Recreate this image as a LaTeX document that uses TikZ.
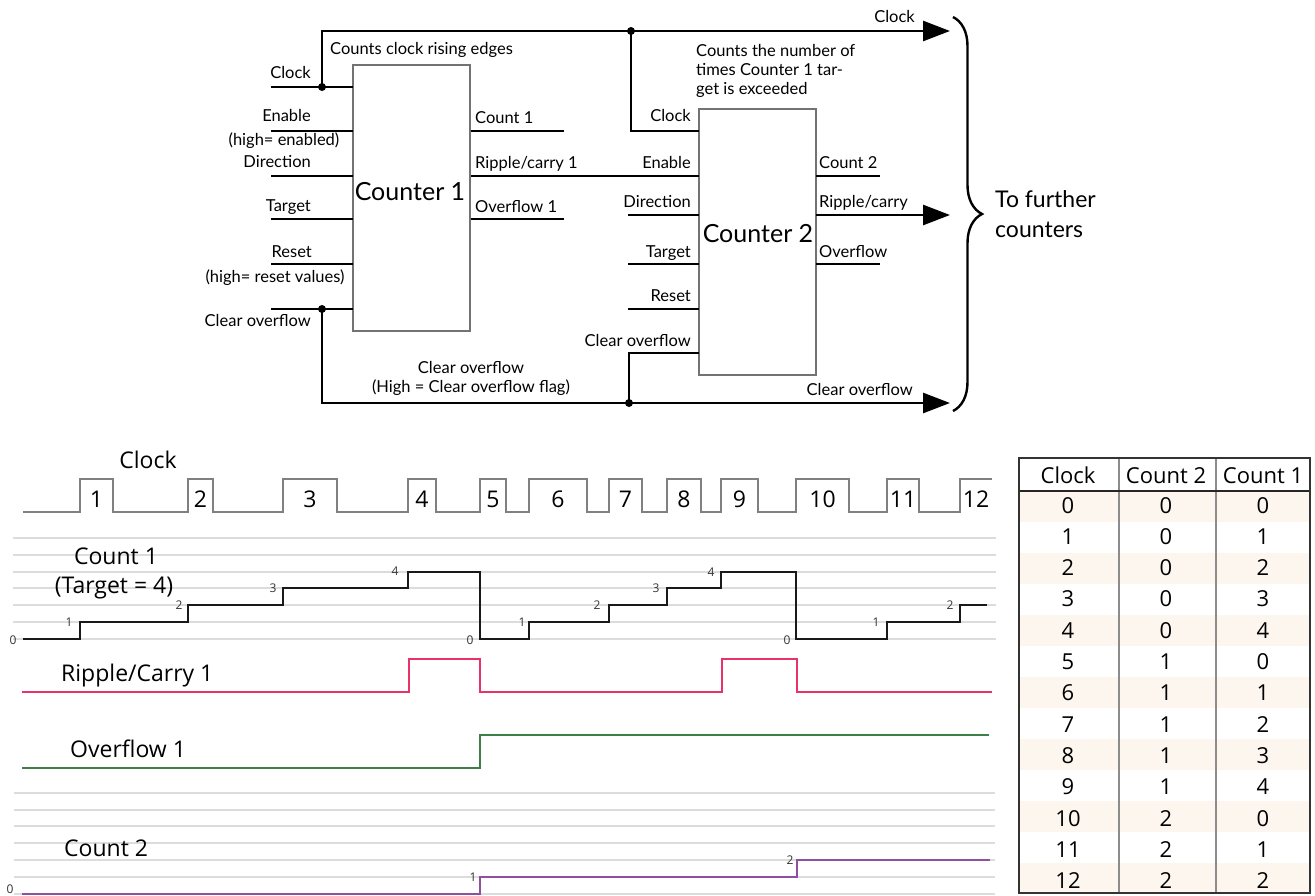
\documentclass[tikz,border=0pt]{standalone}
\usepackage{fontspec}
\setmainfont{Lato}
\newfontfamily\tfont{Open Sans}
\usetikzlibrary{arrows.meta,decorations.pathreplacing}
\definecolor{gridc}{HTML}{DCDCDC}
\definecolor{ripc}{HTML}{E8336A}
\definecolor{ovc}{HTML}{3D8046}
\definecolor{ctwo}{HTML}{9050A2}
\definecolor{rowc}{HTML}{FCF6EE}
\definecolor{clkc}{HTML}{808080}
\begin{document}
\begin{tikzpicture}[x=1pt,y=-1pt,
  lbl/.style={font=\fontsize{16.5}{19}\selectfont, inner sep=0pt},
  big/.style={font=\fontsize{25}{28}\selectfont, inner sep=0pt},
  wire/.style={line width=2.7pt},
  arr/.style={line width=2.7pt,-{Triangle[length=27pt,width=20pt]}},
  cbox/.style={draw=black!55,line width=1.3pt,fill=white,inner sep=0pt},
  jdot/.style={circle,fill=black,inner sep=0pt,minimum size=8pt},
  tl/.style={font=\tfont\fontsize{23}{26}\selectfont, inner sep=0pt},
  sl/.style={font=\tfont\fontsize{12}{14}\selectfont, inner sep=0pt, text=black!80},
  gline/.style={draw=gridc, line width=1.4pt},
  tab/.style={font=\tfont\fontsize{22}{24}\selectfont, inner sep=0pt}]
\useasboundingbox (0,0) rectangle (1315,895);

% ---------------- block diagram ----------------
\node[cbox, minimum width=117pt, minimum height=266pt] (c1) at (411.5,198) {};
\node[cbox, minimum width=117pt, minimum height=266pt] (c2) at (757.5,242) {};
\node[big, anchor=base] (c1t) at (410,200) {Counter 1};
\node[big, anchor=base] (c2t) at (758,242) {Counter 2};

% Counter 1 pins
\coordinate (i1clk) at (271,87);  \coordinate (p1clk) at (353,87);
\coordinate (i1en)  at (271,131); \coordinate (p1en)  at (353,131);
\coordinate (i1dir) at (271,176); \coordinate (p1dir) at (353,176);
\coordinate (i1tg)  at (271,219); \coordinate (p1tg)  at (353,219);
\coordinate (i1rs)  at (271,264); \coordinate (p1rs)  at (353,264);
\coordinate (i1co)  at (271,309); \coordinate (p1co)  at (353,309);
\coordinate (o1cnt) at (471,131); \coordinate (e1cnt) at (564,131);
\coordinate (o1rip) at (471,176);
\coordinate (o1ov)  at (471,219); \coordinate (e1ov)  at (564,219);
% Counter 2 pins
\coordinate (p2clk) at (699,131);
\coordinate (p2en)  at (699,176);
\coordinate (i2dir) at (628,215); \coordinate (p2dir) at (699,215);
\coordinate (i2tg)  at (628,264); \coordinate (p2tg)  at (699,264);
\coordinate (i2rs)  at (628,309); \coordinate (p2rs)  at (699,309);
\coordinate (p2co)  at (699,353);
\coordinate (o2cnt) at (816,176); \coordinate (e2cnt) at (880,176);
\coordinate (o2rip) at (816,215); \coordinate (e2rip) at (950,215);
\coordinate (o2ov)  at (816,264); \coordinate (e2ov)  at (880,264);
% junctions and ends
\coordinate (j1) at (322,87);
\coordinate (j2) at (631,31);
\coordinate (j3) at (322,309);
\coordinate (j4) at (629,403);
\coordinate (eclk) at (950,31);
\coordinate (eco) at (950,403);

\draw[wire] (i1clk) -- (p1clk);
\draw[wire] (i1en) -- (p1en);
\draw[wire] (i1dir) -- (p1dir);
\draw[wire] (i1tg) -- (p1tg);
\draw[wire] (i1rs) -- (p1rs);
\draw[wire] (i1co) -- (p1co);
\draw[wire] (o1cnt) -- (e1cnt);
\draw[wire] (o1rip) -- (p2en);
\draw[wire] (o1ov) -- (e1ov);
\draw[wire] (i2dir) -- (p2dir);
\draw[wire] (i2tg) -- (p2tg);
\draw[wire] (i2rs) -- (p2rs);
\draw[wire] (o2cnt) -- (e2cnt);
\draw[wire] (o2ov) -- (e2ov);
\draw[arr] (o2rip) -- (e2rip);
\draw[arr] (j1) |- (eclk);
\draw[wire] (j2) |- (p2clk);
\draw[arr] (j3) |- (eco);
\draw[wire] (j4) |- (p2co);
\node[jdot] (d1) at (j1) {};
\node[jdot] (d2) at (j2) {};
\node[jdot] (d3) at (j3) {};
\node[jdot] (d4) at (j4) {};

% labels counter 1
\node[lbl, anchor=base east] (l1) at (311,78) {Clock};
\node[lbl, anchor=base east] (l2) at (311,121) {Enable};
\node[lbl, anchor=base] (l3) at (284,145) {(high= enabled)};
\node[lbl, anchor=base east] (l4) at (311,167) {Direction};
\node[lbl, anchor=base east] (l5) at (311,211) {Target};
\node[lbl, anchor=base east] (l6) at (312,257) {Reset};
\node[lbl, anchor=base] (l7) at (275,282) {(high= reset values)};
\node[lbl, anchor=base east] (l8) at (311,326) {Clear overflow};
\node[lbl, anchor=base west] (l9) at (330,54) {Counts clock rising edges};
\node[lbl, anchor=base west] (l10) at (475,123) {Count 1};
\node[lbl, anchor=base west] (l11) at (475,168) {Ripple/carry 1};
\node[lbl, anchor=base west] (l12) at (475,212) {Overflow 1};
% labels counter 2
\node[lbl, anchor=base east] (m1) at (691,121) {Clock};
\node[lbl, anchor=base east] (m2) at (691,168) {Enable};
\node[lbl, anchor=base east] (m3) at (691,207) {Direction};
\node[lbl, anchor=base east] (m4) at (691,257) {Target};
\node[lbl, anchor=base east] (m5) at (691,301) {Reset};
\node[lbl, anchor=base east] (m6) at (691,346) {Clear overflow};
\node[lbl, anchor=base west] (m7) at (819,168) {Count 2};
\node[lbl, anchor=base west] (m8) at (819,207) {Ripple/carry};
\node[lbl, anchor=base west] (m9) at (819,257) {Overflow};
\node[lbl, anchor=base west] (m10) at (696,56) {Counts the number of};
\node[lbl, anchor=base west] (m11) at (696,75) {times Counter 1 tar-};
\node[lbl, anchor=base west] (m12) at (696,94) {get is exceeded};
\node[lbl, anchor=base east] (m13) at (915,22) {Clock};
\node[lbl, anchor=base east] (m14) at (913,395) {Clear overflow};
\node[lbl, anchor=base] (m15) at (471,373) {Clear overflow};
\node[lbl, anchor=base] (m16) at (471,392) {(High = Clear overflow flag)};

% brace
\coordinate (bt) at (953,17);
\coordinate (bb) at (953,411);
\draw[line width=2.4pt, decorate, decoration={brace, amplitude=29pt}] (bt) -- (bb);
\node[font=\fontsize{23}{26}\selectfont, inner sep=0pt, anchor=base west] (tf1) at (995,207) {To further};
\node[font=\fontsize{23}{26}\selectfont, inner sep=0pt, anchor=base west] (tf2) at (995,237) {counters};

% ---------------- timing diagram ----------------
\foreach \y in {538,555,572,588,605,622,639} \draw[gline] (13,\y) -- (996,\y);
\foreach \y in {793,810,826,843,860,877,894} \draw[gline] (14,\y) -- (995,\y);

\draw[clkc, line width=1.3pt] (23,512)
  foreach \r/\f in {80/113,188/213,283/337,408/436,480/506,529/587,609/642,667/701,721/758,796/849,887/919}
  { -- (\r,512) -- (\r,479) -- (\f,479) -- (\f,512) } -- (960,512) -- (960,479) -- (992,479);
\foreach \r/\f [count=\n] in {80/113,188/213,283/337,408/436,480/506,529/587,609/642,667/701,721/758,796/849,887/919,960/992}
  \node[tl, anchor=base] (ck\n) at ({(\r+\f)/2},507) {\n};
\node[tl, anchor=base] (tclk) at (148,468) {Clock};

\draw[line width=2.7pt, black!90] (23,639) -- (80,639) -- (80,622) -- (188,622) -- (188,605) -- (283,605) -- (283,588) -- (408,588) -- (408,572) -- (480,572) -- (480,639) -- (529,639) -- (529,622) -- (609,622) -- (609,605) -- (667,605) -- (667,588) -- (721,588) -- (721,572) -- (796,572) -- (796,639) -- (887,639) -- (887,622) -- (960,622) -- (960,605) -- (987,605);
\node[tl, anchor=base] (tc1) at (116,564) {Count 1};
\node[tl, anchor=base] (tc1b) at (114,593) {(Target = 4)};
\foreach \x/\y/\t [count=\n] in {13/640/0,69/622/1,179/605/2,273/588/3,395/571/4,470/640/0,522/622/1,597/605/2,656/588/3,711/572/4,787/640/0,876/622/1,950/605/2}
  \node[sl] (s\n) at (\x,\y) {\t};

\draw[ripc, line width=2.5pt] (22,692) -- (409,692) -- (409,659) -- (480,659) -- (480,692) -- (722,692) -- (722,659) -- (797,659) -- (797,692) -- (992,692);
\node[tl, anchor=base west] (trc) at (61,681) {Ripple/Carry 1};

\draw[ovc, line width=2.5pt] (22,768) -- (480,768) -- (480,735) -- (989,735);
\node[tl, anchor=base west] (tov) at (70,757) {Overflow 1};

\draw[ctwo, line width=2.5pt] (22,894) -- (480,894) -- (480,877) -- (797,877) -- (797,860) -- (990,860);
\node[tl, anchor=base west] (tc2) at (64,856) {Count 2};
\node[sl] (u0) at (10,889) {0};
\node[sl] (u1) at (473,877) {1};
\node[sl] (u2) at (790,860) {2};

% ---------------- table ----------------
\foreach \i in {0,2,...,12} \fill[rowc] (1019,{491+31*\i}) rectangle (1310,{491+31*(\i+1)});
\draw[black!45, line width=1.2pt] (1119,458) -- (1119,893);
\draw[black!45, line width=1.2pt] (1216,458) -- (1216,893);
\draw[black!85, line width=1.5pt] (1019,491) -- (1310,491);
\draw[black!80, line width=2.4pt] (1019,458) rectangle (1310,893);
\node[tab, anchor=base] (h1) at (1068,483) {Clock};
\node[tab, anchor=base] (h2) at (1166,483) {Count 2};
\node[tab, anchor=base] (h3) at (1263,483) {Count 1};
\foreach \i in {0,...,12} {
  \pgfmathtruncatemacro{\ca}{floor(\i/5)}
  \pgfmathtruncatemacro{\cb}{mod(\i,5)}
  \node[tab, anchor=base] (ra\i) at (1068,{513+31.3*\i}) {\i};
  \node[tab, anchor=base] (rb\i) at (1166,{513+31.3*\i}) {\ca};
  \node[tab, anchor=base] (rc\i) at (1263,{513+31.3*\i}) {\cb};
}
\end{tikzpicture}
\end{document}
